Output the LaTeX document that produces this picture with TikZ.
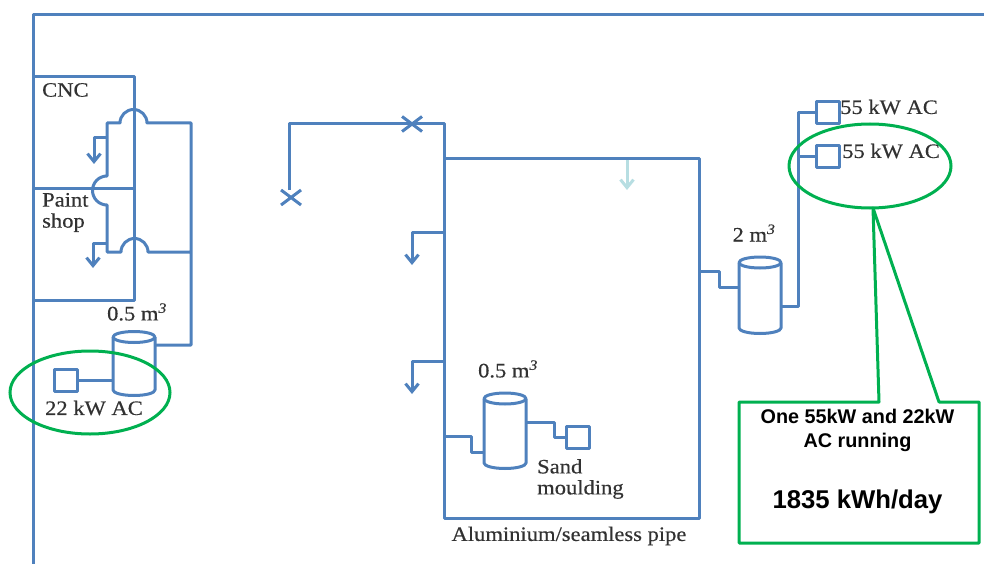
\documentclass[tikz,border=0pt]{standalone}
\usepackage{fontspec}
\setmainfont{Liberation Serif}[FakeStretch=1.1,FakeBold=0.4]
\newfontfamily\calloutfont{Liberation Sans}
\usetikzlibrary{arrows.meta,calc,shapes.geometric,shapes.misc}
\definecolor{pipeblue}{RGB}{79,129,189}
\definecolor{palepipe}{RGB}{183,222,226}
\definecolor{ringgreen}{RGB}{0,176,80}
\definecolor{ink}{RGB}{50,50,50}
\newcommand{\cubic}[1]{#1 m\textsuperscript{\itshape 3}}
\newcommand{\tankdraw}[1]{% node name
  \draw[pipe] (#1.north) ellipse [x radius=21pt,y radius=5.5pt];
  \draw[pipe] (#1.north west) -- (#1.south west)
    arc[start angle=180,end angle=360,x radius=21pt,y radius=5.5pt] -- (#1.north east);
}
\tikzset{
  pipe/.style={draw=pipeblue,line width=3pt,line join=round},
  drop/.style={pipe,-{Straight Barb[length=8pt,width=13pt,line width=3pt]}},
  tank/.style={inner sep=0pt,outer sep=0pt,minimum width=42pt},
  acbox/.style={pipe,inner sep=0pt,outer sep=0pt,minimum width=23pt,minimum height=22pt},
  valve/.style={pipe,cross out,inner sep=0pt,outer sep=0pt,minimum width=20pt,minimum height=15pt},
  ring/.style={draw=ringgreen,line width=3pt,ellipse,inner sep=0pt,outer sep=0pt},
  lbl/.style={font=\fontsize{20.5}{21}\selectfont,text=ink,inner sep=0pt,align=left},
}
\begin{document}
\begin{tikzpicture}[x=1pt,y=-1pt]
  \useasboundingbox (0,0) rectangle (984,564);
  % walls
  \draw[pipe] (33,564) -- (33,15) -- (984,15);
  \draw[pipe] (33,77) -- (134,77) -- (134,300) -- (33,300);
  \draw[pipe] (33,188) -- (134,188);
  \node[lbl,anchor=west] (cnc) at (42,90) {CNC};
  \node[lbl,anchor=west] (paint) at (42,212.5) {Paint\\shop};
  % left tank and riser
  \node[tank,minimum height=53pt] (tankA) at (134,363.5) {};
  \tankdraw{tankA}
  \node[acbox] (acA) at (66,380) {};
  \node[lbl] (volA) at (137,312) {\cubic{0.5}};
  \node[lbl] (acAlbl) at (94,408) {22 kW AC};
  \coordinate (riser) at (191,345);
  \draw[pipe] (acA) -- (acA -| tankA.west);
  \draw[pipe] (tankA.east |- riser) -- (riser) -- (191,123) -- (147,123)
    arc[start angle=0,end angle=180,radius=13.5pt] -- (107,123) -- (107,176)
    arc[start angle=90,end angle=270,radius=14.5pt] -- (107,252) -- (121,252)
    arc[start angle=180,end angle=0,radius=13.5pt] -- (191,252);
  \coordinate (dropA) at (107,138);
  \coordinate (dropB) at (107,243);
  \draw[drop] (dropA) -- (94,138) -- (94,164);
  \draw[drop] (dropB) -- (93,243) -- (93,268);
  % middle hall
  \node[valve] (valveA) at (291,197.5) {};
  \node[valve] (valveB) at (412,124) {};
  \draw[pipe] ($(valveA.north)+(-2,0)$) -- (289,124) -- (valveB.center) -- (444,124) -- (444,518) -- (699,518) -- (699,159) -- (444,159);
  \coordinate (dropC) at (444,232);
  \coordinate (dropD) at (444,361);
  \draw[drop] (dropC) -- (412,232) -- (412,265);
  \draw[drop] (dropD) -- (412,361) -- (412,394);
  \draw[drop,draw=palepipe] (627,160) -- (627,190);
  \node[tank,minimum height=64.5pt] (tankB) at (505,430.75) {};
  \tankdraw{tankB}
  \node[acbox] (acB) at (577.5,437) {};
  \draw[pipe] (444,436) -- (471,436) -- (471,452) -- (tankB.west |- 0,452);
  \draw[pipe] (tankB.east |- 0,422) -- (554,422) -- (554,437) -- (acB);
  \node[lbl] (volB) at (508,369) {\cubic{0.5}};
  \node[lbl,anchor=west] (sand) at (537,479) {Sand\\moulding};
  \node[lbl] (hall) at (569,536) {Aluminium/seamless pipe};
  % right tank
  \node[tank,minimum height=65.5pt] (tankC) at (760,295.25) {};
  \tankdraw{tankC}
  \node[acbox] (acC) at (827.5,113) {};
  \node[acbox] (acD) at (827.5,156.5) {};
  \draw[pipe] (699,271) -- (719,271) -- (719,287) -- (tankC.west |- 0,287);
  \draw[pipe] (tankC.east |- 0,306) -- (798,306) -- (798,113) -- (acC);
  \draw[pipe] (798,156.5) -- (acD);
  \node[lbl] (volC) at (754,233) {\cubic{2}};
  \node[lbl,anchor=west] (acClbl) at (840,107) {55 kW AC};
  \node[lbl,anchor=west] (acDlbl) at (842,151) {55 kW AC};
  % rings and callout
  \node[ring,minimum width=160pt,minimum height=83pt] (ringA) at (90,392.5) {};
  \node[ring,minimum width=162pt,minimum height=84pt] (ringB) at (870,166) {};
  \draw[draw=ringgreen,line width=3pt,line join=round] (739,402) -- (879,402) -- ($(ringB.south)+(3,0)$) -- (939,402)
    -- (979,402) -- (979,543) -- (739,543) -- cycle;
  \node[font=\calloutfont\bfseries\fontsize{19.8}{24}\selectfont,text=black,align=center] (usage) at (857.5,430) {One 55kW and 22kW\\AC running};
  \node[font=\calloutfont\bfseries\fontsize{25.7}{28}\selectfont,text=black] (daily) at (857.5,502) {1835 kWh/day};
\end{tikzpicture}
\end{document}
